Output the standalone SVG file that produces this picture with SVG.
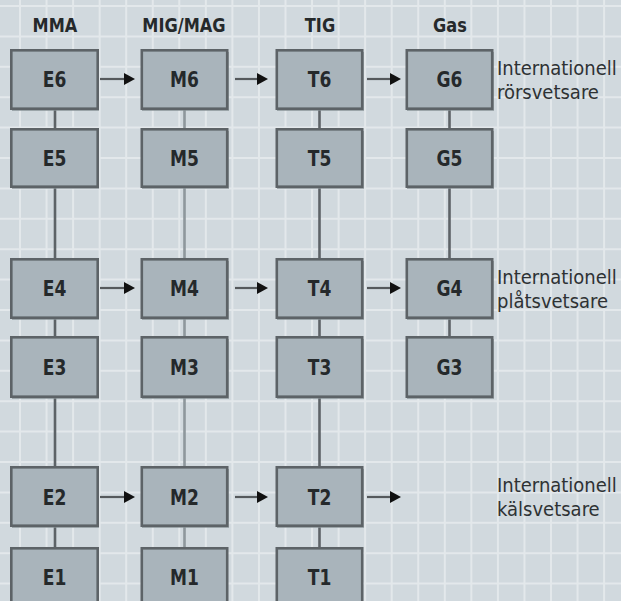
<svg xmlns="http://www.w3.org/2000/svg" width="621" height="601" viewBox="0 0 621 601">
  <style>
    .bg { fill: #d1d9de; }
    .grid { stroke: #e3e8eb; stroke-width: 2; fill: none; }
    .box { fill: #a9b4bb; stroke: #5d6367; stroke-width: 2.6; }
    .shadow { fill: #858e93; opacity: 0.7; }
    text { font-family: 'DejaVu Sans Condensed', 'DejaVu Sans', sans-serif; font-stretch: condensed; }
    .lbl { font-weight: bold; font-size: 19px; fill: #25292b; text-anchor: middle; }
    .hdr { font-weight: bold; font-size: 18px; fill: #25292b; text-anchor: middle; }
    .side { font-size: 20px; fill: #2e3234; }
    .vdark { stroke: #5d6367; stroke-width: 2.6; }
    .vlight { stroke: #8e979c; stroke-width: 2.6; }
    .arrow { stroke: #55595c; stroke-width: 2.2; marker-end: url(#head); }
  </style>
  <defs>
    <marker id="head" markerUnits="userSpaceOnUse" markerWidth="11" markerHeight="12" refX="0" refY="6" orient="auto" overflow="visible">
      <path d="M0,0 L11,6 L0,12 z" fill="#111"/>
    </marker>
  </defs>

  <!-- background and grid -->
  <rect class="bg" x="0" y="0" width="621" height="601"/>
  <path class="grid" d="M20,0V601 M46.55,0V601 M73.1,0V601 M99.65,0V601 M126.2,0V601 M152.75,0V601 M179.3,0V601 M205.85,0V601 M232.4,0V601 M258.95,0V601 M285.5,0V601 M312.05,0V601 M338.6,0V601 M365.15,0V601 M391.7,0V601 M418.25,0V601 M444.8,0V601 M471.35,0V601 M497.9,0V601 M524.45,0V601 M551,0V601 M577.55,0V601 M604.1,0V601
    M0,6H621 M0,36.4H621 M0,66.8H621 M0,97.2H621 M0,127.6H621 M0,158H621 M0,188.4H621 M0,218.8H621 M0,249.2H621 M0,279.6H621 M0,310H621 M0,340.4H621 M0,370.8H621 M0,401.2H621 M0,431.6H621 M0,462H621 M0,492.4H621 M0,522.8H621 M0,553.2H621 M0,583.6H621"/>

  <!-- column headings -->
  <g id="headings">
    <text class="hdr" transform="translate(55,32) scale(1,1.12)">MMA</text>
    <text class="hdr" transform="translate(184,32) scale(1,1.12)">MIG/MAG</text>
    <text class="hdr" transform="translate(320,32) scale(1,1.12)">TIG</text>
    <text class="hdr" transform="translate(450,32) scale(1,1.12)">Gas</text>
  </g>

  <!-- connectors -->
  <g id="connectors">
    <!-- MMA column -->
    <line class="vdark" x1="55" y1="109" x2="55" y2="129"/>
    <line class="vdark" x1="55" y1="187" x2="55" y2="259"/>
    <line class="vdark" x1="55" y1="318" x2="55" y2="337"/>
    <line class="vdark" x1="55" y1="397" x2="55" y2="467"/>
    <line class="vdark" x1="55" y1="526" x2="55" y2="548"/>
    <!-- MIG/MAG column -->
    <line class="vlight" x1="184.5" y1="109" x2="184.5" y2="129"/>
    <line class="vlight" x1="184.5" y1="187" x2="184.5" y2="259"/>
    <line class="vlight" x1="184.5" y1="318" x2="184.5" y2="337"/>
    <line class="vlight" x1="184.5" y1="397" x2="184.5" y2="467"/>
    <line class="vlight" x1="184.5" y1="526" x2="184.5" y2="548"/>
    <!-- TIG column -->
    <line class="vdark" x1="319.5" y1="109" x2="319.5" y2="129"/>
    <line class="vdark" x1="319.5" y1="187" x2="319.5" y2="259"/>
    <line class="vdark" x1="319.5" y1="318" x2="319.5" y2="337"/>
    <line class="vdark" x1="319.5" y1="397" x2="319.5" y2="467"/>
    <line class="vdark" x1="319.5" y1="526" x2="319.5" y2="548"/>
    <!-- Gas column -->
    <line class="vdark" x1="449.5" y1="109" x2="449.5" y2="129"/>
    <line class="vdark" x1="449.5" y1="187" x2="449.5" y2="259"/>
    <line class="vdark" x1="449.5" y1="318" x2="449.5" y2="337"/>
    <!-- horizontal arrows -->
    <line class="arrow" x1="100" y1="79" x2="124" y2="79"/>
    <line class="arrow" x1="235" y1="79" x2="257" y2="79"/>
    <line class="arrow" x1="367" y1="79" x2="390" y2="79"/>
    <line class="arrow" x1="100" y1="288" x2="124" y2="288"/>
    <line class="arrow" x1="235" y1="288" x2="257" y2="288"/>
    <line class="arrow" x1="367" y1="288" x2="390" y2="288"/>
    <line class="arrow" x1="100" y1="497" x2="124" y2="497"/>
    <line class="arrow" x1="235" y1="497" x2="257" y2="497"/>
    <line class="arrow" x1="367" y1="497" x2="390" y2="497"/>
  </g>

  <!-- MMA nodes -->
  <g id="E6"><rect class="shadow" x="12" y="52" width="87" height="59"/><rect class="box" x="11.3" y="50.3" width="86.4" height="58.4"/><text class="lbl" transform="translate(54.5,87) scale(1,1.15)">E6</text></g>
  <g id="E5"><rect class="shadow" x="12" y="131" width="87" height="58"/><rect class="box" x="11.3" y="129.3" width="86.4" height="57.4"/><text class="lbl" transform="translate(54.5,166) scale(1,1.15)">E5</text></g>
  <g id="E4"><rect class="shadow" x="12" y="261" width="87" height="59"/><rect class="box" x="11.3" y="259.3" width="86.4" height="58.4"/><text class="lbl" transform="translate(54.5,296) scale(1,1.15)">E4</text></g>
  <g id="E3"><rect class="shadow" x="12" y="339" width="87" height="60"/><rect class="box" x="11.3" y="337.3" width="86.4" height="59.4"/><text class="lbl" transform="translate(54.5,375) scale(1,1.15)">E3</text></g>
  <g id="E2"><rect class="shadow" x="12" y="469" width="87" height="59"/><rect class="box" x="11.3" y="467.3" width="86.4" height="58.4"/><text class="lbl" transform="translate(54.5,505) scale(1,1.15)">E2</text></g>
  <g id="E1"><rect class="box" x="11.3" y="548.3" width="86.4" height="60"/><text class="lbl" transform="translate(54.5,585) scale(1,1.15)">E1</text></g>

  <!-- MIG/MAG nodes -->
  <g id="M6"><rect class="shadow" x="142" y="52" width="87" height="59"/><rect class="box" x="141.8" y="50.3" width="85.4" height="58.4"/><text class="lbl" transform="translate(184.5,87) scale(1,1.15)">M6</text></g>
  <g id="M5"><rect class="shadow" x="142" y="131" width="87" height="58"/><rect class="box" x="141.8" y="129.3" width="85.4" height="57.4"/><text class="lbl" transform="translate(184.5,166) scale(1,1.15)">M5</text></g>
  <g id="M4"><rect class="shadow" x="142" y="261" width="87" height="59"/><rect class="box" x="141.8" y="259.3" width="85.4" height="58.4"/><text class="lbl" transform="translate(184.5,296) scale(1,1.15)">M4</text></g>
  <g id="M3"><rect class="shadow" x="142" y="339" width="87" height="60"/><rect class="box" x="141.8" y="337.3" width="85.4" height="59.4"/><text class="lbl" transform="translate(184.5,375) scale(1,1.15)">M3</text></g>
  <g id="M2"><rect class="shadow" x="142" y="469" width="87" height="59"/><rect class="box" x="141.8" y="467.3" width="85.4" height="58.4"/><text class="lbl" transform="translate(184.5,505) scale(1,1.15)">M2</text></g>
  <g id="M1"><rect class="box" x="141.8" y="548.3" width="85.4" height="60"/><text class="lbl" transform="translate(184.5,585) scale(1,1.15)">M1</text></g>

  <!-- TIG nodes -->
  <g id="T6"><rect class="shadow" x="277" y="52" width="87" height="59"/><rect class="box" x="276.8" y="50.3" width="85.4" height="58.4"/><text class="lbl" transform="translate(319.5,87) scale(1,1.15)">T6</text></g>
  <g id="T5"><rect class="shadow" x="277" y="131" width="87" height="58"/><rect class="box" x="276.8" y="129.3" width="85.4" height="57.4"/><text class="lbl" transform="translate(319.5,166) scale(1,1.15)">T5</text></g>
  <g id="T4"><rect class="shadow" x="277" y="261" width="87" height="59"/><rect class="box" x="276.8" y="259.3" width="85.4" height="58.4"/><text class="lbl" transform="translate(319.5,296) scale(1,1.15)">T4</text></g>
  <g id="T3"><rect class="shadow" x="277" y="339" width="87" height="60"/><rect class="box" x="276.8" y="337.3" width="85.4" height="59.4"/><text class="lbl" transform="translate(319.5,375) scale(1,1.15)">T3</text></g>
  <g id="T2"><rect class="shadow" x="277" y="469" width="87" height="59"/><rect class="box" x="276.8" y="467.3" width="85.4" height="58.4"/><text class="lbl" transform="translate(319.5,505) scale(1,1.15)">T2</text></g>
  <g id="T1"><rect class="box" x="276.8" y="548.3" width="85.4" height="60"/><text class="lbl" transform="translate(319.5,585) scale(1,1.15)">T1</text></g>

  <!-- Gas nodes -->
  <g id="G6"><rect class="shadow" x="407" y="52" width="87" height="59"/><rect class="box" x="406.8" y="50.3" width="85.4" height="58.4"/><text class="lbl" transform="translate(449.5,87) scale(1,1.15)">G6</text></g>
  <g id="G5"><rect class="shadow" x="407" y="131" width="87" height="58"/><rect class="box" x="406.8" y="129.3" width="85.4" height="57.4"/><text class="lbl" transform="translate(449.5,166) scale(1,1.15)">G5</text></g>
  <g id="G4"><rect class="shadow" x="407" y="261" width="87" height="59"/><rect class="box" x="406.8" y="259.3" width="85.4" height="58.4"/><text class="lbl" transform="translate(449.5,296) scale(1,1.15)">G4</text></g>
  <g id="G3"><rect class="shadow" x="407" y="339" width="87" height="60"/><rect class="box" x="406.8" y="337.3" width="85.4" height="59.4"/><text class="lbl" transform="translate(449.5,375) scale(1,1.15)">G3</text></g>

  <!-- qualification labels -->
  <g id="label-ror">
    <text class="side" x="497" y="75">Internationell</text>
    <text class="side" x="497" y="99">rörsvetsare</text>
  </g>
  <g id="label-plat">
    <text class="side" x="497" y="284">Internationell</text>
    <text class="side" x="497" y="308">plåtsvetsare</text>
  </g>
  <g id="label-kal">
    <text class="side" x="497" y="492">Internationell</text>
    <text class="side" x="497" y="516">kälsvetsare</text>
  </g>
</svg>
